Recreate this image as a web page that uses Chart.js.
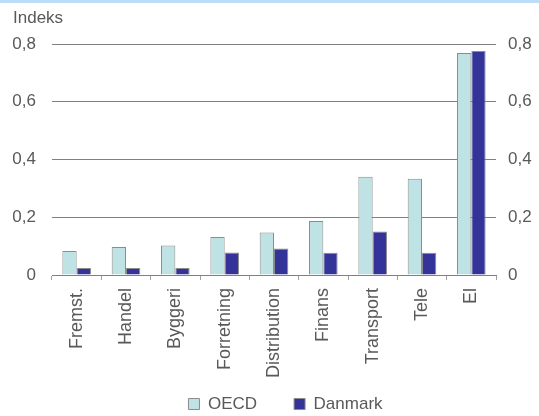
<!DOCTYPE html>
<html><head><meta charset="utf-8">
<script src="https://cdn.jsdelivr.net/npm/chart.js@4/dist/chart.umd.min.js"></script>
<style>
html,body{margin:0;padding:0;background:#fff;}
#wrap{position:relative;width:539px;height:416px;}
#band{position:absolute;left:0;top:0;width:539px;height:3px;background:#bcdcf7;}
#ttl{position:absolute;left:13px;top:8px;font:17px "Liberation Sans",Arial,sans-serif;color:#595959;line-height:20px;}
canvas{position:absolute;left:0;top:0;}
</style></head>
<body><div id="wrap"><canvas id="c" width="539" height="416"></canvas><div id="band"></div><div id="ttl">Indeks</div></div>
<script>
const categories = ['Fremst.', 'Handel', 'Byggeri', 'Forretning', 'Distribution', 'Finans', 'Transport', 'Tele', 'El'];
const oecd = [0.083, 0.097, 0.102, 0.132, 0.147, 0.187, 0.340, 0.333, 0.769];
const danmark = [0.024, 0.024, 0.024, 0.078, 0.092, 0.077, 0.151, 0.077, 0.776];
const yTicks = [0, 0.2, 0.4, 0.6, 0.8];

const fmt = v => { const t = yTicks.find(x => Math.abs(x - v) < 1e-6); return t === undefined ? '' : (t === 0 ? '0' : t.toFixed(1).replace('.', ',')); };
const txt = '#595959';
const fam = '"Liberation Sans", Arial, sans-serif';

const shiftLegend = {
  id: 'shiftLegend',
  afterLayout(chart) {
    const lg = chart.legend;
    if (!lg) return;
    lg.top = 404 - 37 - 8.5;
    lg.bottom = chart.height;
    lg.left += 16; lg.right += 16;
  }
};

new Chart(document.getElementById('c'), {
  type: 'bar',
  data: {
    labels: categories,
    datasets: [
      {label: 'OECD', data: oecd, backgroundColor: '#bfe2e4', borderColor: '#8c8c8c', borderWidth: 1, yAxisID: 'y'},
      {label: 'Danmark', data: danmark, backgroundColor: '#333399', borderColor: '#8c8c8c', borderWidth: 1, yAxisID: 'y'}
    ]
  },
  plugins: [shiftLegend],
  options: {
    responsive: false,
    animation: false,
    layout: {padding: {left: 0, right: 0, top: 44, bottom: 0}},
    datasets: {bar: {categoryPercentage: 0.58, barPercentage: 1.0}},
    plugins: {
      title: {display: false},
      legend: {position: 'bottom', maxHeight: 37, labels: {color: txt, font: {family: fam, size: 17},
        boxWidth: 11, boxHeight: 11, padding: 37}},
      tooltip: {enabled: false}
    },
    scales: {
      x: {
        afterFit: s => { s.height = 104; },
        grid: {display: true, drawOnChartArea: false, drawTicks: true, tickLength: 5, color: '#a0a0a0', offset: true},
        border: {display: true, color: '#808080'},
        ticks: {color: txt, font: {family: fam, size: 18}, maxRotation: 90, minRotation: 90, autoSkip: false, padding: 8}
      },
      y: {
        position: 'left', min: 0, max: 0.8,
        afterBuildTicks: s => { s.ticks = yTicks.map(v => ({value: v})); },
        afterFit: s => { s.width = 52; },
        grid: {color: '#808080', drawTicks: false, lineWidth: 1},
        border: {display: false},
        ticks: {color: txt, font: {family: fam, size: 17}, padding: 16, callback: fmt}
      },
      y2: {
        position: 'right', min: 0, max: 0.8,
        afterBuildTicks: s => { s.ticks = yTicks.map(v => ({value: v})); },
        afterFit: s => { s.width = 43; },
        grid: {display: false, drawTicks: false},
        border: {display: false},
        ticks: {color: txt, font: {family: fam, size: 17}, padding: 12, callback: fmt}
      }
    }
  }
});
</script></body></html>
